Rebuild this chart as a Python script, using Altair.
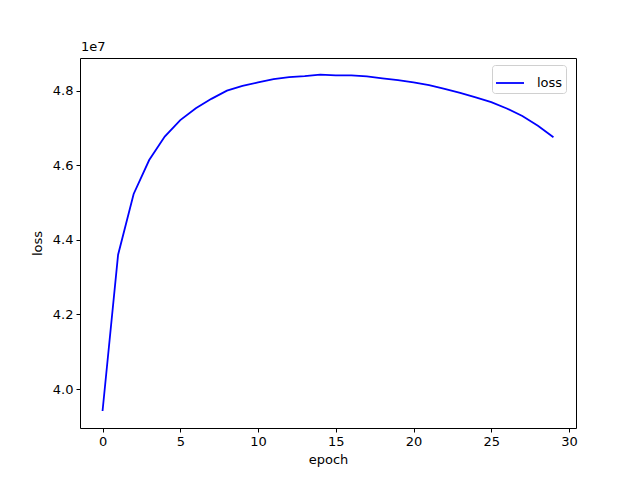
import altair as alt
import pandas as pd

epochs = list(range(30))
loss = [39.41e6, 43.60e6, 45.23e6, 46.14e6, 46.77e6, 47.21e6, 47.53e6, 47.78e6,
        48.00e6, 48.13e6, 48.22e6, 48.31e6, 48.36e6, 48.39e6, 48.43e6, 48.41e6,
        48.41e6, 48.38e6, 48.33e6, 48.28e6, 48.22e6, 48.15e6, 48.05e6, 47.94e6,
        47.82e6, 47.69e6, 47.52e6, 47.32e6, 47.06e6, 46.75e6]
series = ["loss"] * len(epochs)
x_ticks = [0, 5, 10, 15, 20, 25, 30]
y_ticks = [4.0e7, 4.2e7, 4.4e7, 4.6e7, 4.8e7]

df = pd.DataFrame({"epoch": epochs, "loss": loss, "series": series})

FONT = "DejaVu Sans"

line = alt.Chart(df).mark_line(strokeWidth=1.8).encode(
    x=alt.X("epoch:Q",
            scale=alt.Scale(domain=[-1.45, 30.45], nice=False, zero=False),
            axis=alt.Axis(values=x_ticks, title="epoch", format="d")),
    y=alt.Y("loss:Q",
            scale=alt.Scale(domain=[3.8955e7, 4.8875e7], nice=False, zero=False),
            axis=alt.Axis(values=y_ticks, title="loss",
                          labelExpr="format(datum.value / 1e7, '.1f')")),
    color=alt.Color("series:N",
                    scale=alt.Scale(range=["#0000ff"]),
                    legend=alt.Legend(title=None, orient="none", legendX=412, legendY=7,
                                      symbolType="stroke", symbolSize=784,
                                      symbolStrokeWidth=1.8, labelFontSize=13,
                                      labelFont=FONT, labelColor="black",
                                      labelOffset=12, padding=3,
                                      strokeColor="#d0d0d0", fillColor="white",
                                      cornerRadius=3)),
)

exp_label = alt.Chart(pd.DataFrame({"t": ["1e7"]})).mark_text(
    align="left", baseline="bottom", font=FONT, fontSize=13, color="black"
).encode(x=alt.value(1), y=alt.value(-4), text="t:N")

chart = alt.layer(line, exp_label).properties(
    width=496, height=370,
    autosize=alt.AutoSizeParams(type="none"),
    padding={"left": 72, "top": 50, "right": 56, "bottom": 44},
).configure_view(
    stroke="black", strokeWidth=1
).configure_axis(
    grid=False, domain=False, tickColor="black", tickSize=4, tickWidth=1,
    labelFont=FONT, labelFontSize=13, labelColor="black", labelPadding=3,
    titleFont=FONT, titleFontSize=13, titleColor="black", titleFontWeight="normal",
).configure_axisX(titlePadding=5).configure_axisY(titlePadding=8)

chart.save("out.html", embed_options={"renderer": "svg", "actions": False})
